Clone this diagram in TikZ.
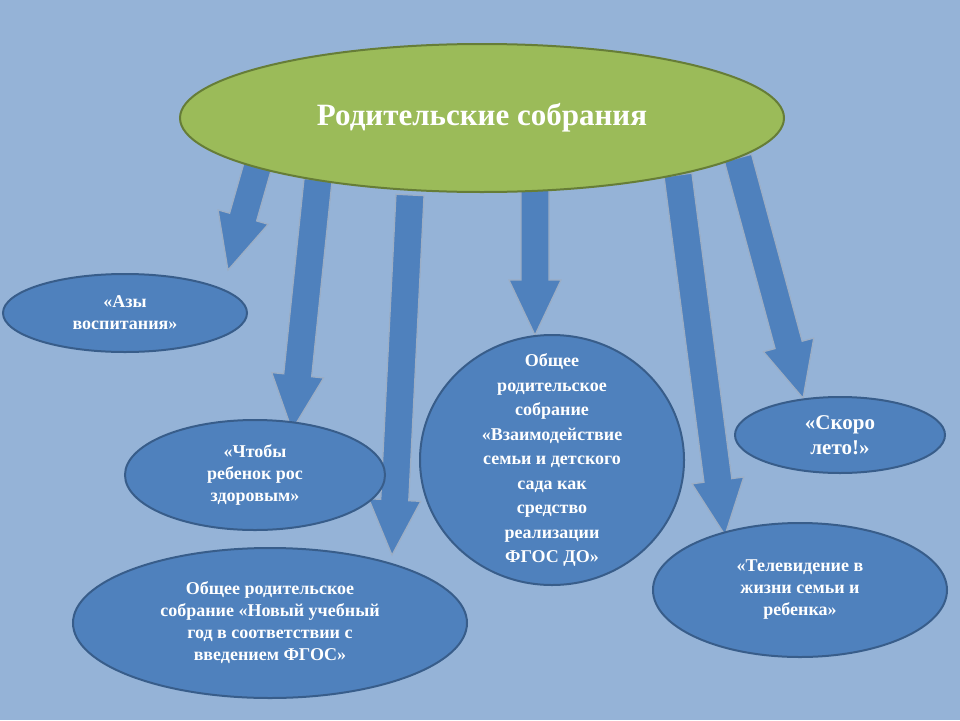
\documentclass[tikz,border=0pt]{standalone}
\usepackage{fontspec}
\setmainfont{Liberation Serif}
\usetikzlibrary{calc,shapes.geometric}
\definecolor{bg}{HTML}{95B3D7}
\definecolor{bl}{HTML}{4F81BD}
\definecolor{bd}{HTML}{385D8A}
\definecolor{gr}{HTML}{9BBB59}
\definecolor{gd}{HTML}{4F6228}
\tikzset{
 ell/.style={ellipse,fill=bl,draw=bd,line width=2pt,text=white,font=\bfseries\fontsize{18}{22}\selectfont,align=center,inner sep=0pt},
 arr/.style={fill=bl,draw=bd!50!white,line width=1.2pt,line join=miter}
}
\newcommand\barrow[3]{%
 \coordinate (h#3) at ($(#2)!55pt!(#1)$);
 \draw[arr] ($(#1)!14pt!90:(#2)$) -- ($(h#3)!14pt!-90:(#1)$) -- ($(h#3)!26pt!-90:(#1)$) -- (#2)
  -- ($(h#3)!26pt!90:(#1)$) -- ($(h#3)!14pt!90:(#1)$) -- ($(#1)!14pt!-90:(#2)$) -- cycle;}
\begin{document}
\begin{tikzpicture}[x=1pt,y=-1pt]
\fill[bg] (0,0) rectangle (960,720);
\useasboundingbox (0,0) rectangle (960,720);
\coordinate (s1) at (258,165); \coordinate (t1) at (228,270);
\coordinate (s2) at (318,180); \coordinate (t2) at (292,430);
\coordinate (s3) at (410,195); \coordinate (t3) at (392,555);
\coordinate (s4) at (535,190); \coordinate (t4) at (535,335);
\coordinate (s5) at (678,175); \coordinate (t5) at (725,535);
\coordinate (s6) at (738,158); \coordinate (t6) at (803,398);
\barrow{s1}{t1}{a}\barrow{s2}{t2}{b}\barrow{s3}{t3}{c}
\barrow{s4}{t4}{d}\barrow{s5}{t5}{e}\barrow{s6}{t6}{f}
\node[ell,fill=gr,draw=gd!70!gr,minimum width=604pt,minimum height=148pt,font=\bfseries\fontsize{31}{36}\selectfont] (top) at (482,118) {Родительские собрания};
\node[ell,minimum width=244pt,minimum height=78pt] (n1) at (125,313) {«Азы\\воспитания»};
\node[ell,minimum width=260pt,minimum height=110pt] (n2) at (255,475) {«Чтобы\\ребенок рос\\здоровым»};
\node[ell,minimum width=394pt,minimum height=150pt] (n3) at (270,623) {Общее родительское\\собрание «Новый учебный\\год в соответствии с\\введением ФГОС»};
\node[ell,minimum width=264pt,minimum height=250pt] (n4) at (552,460) {};
\node[text=white,font=\bfseries\fontsize{18}{24.5}\selectfont,align=center] (n4t) at (n4.center) {Общее\\родительское\\собрание\\«Взаимодействие\\семьи и детского\\сада как\\средство\\реализации\\ФГОС ДО»};
\node[ell,minimum width=210pt,minimum height=76pt,font=\bfseries\fontsize{21}{25}\selectfont] (n5) at (840,435) {«Скоро\\лето!»};
\node[ell,minimum width=294pt,minimum height=134pt] (n6) at (800,590) {«Телевидение в\\жизни семьи и\\ребенка»};
\end{tikzpicture}
\end{document}
